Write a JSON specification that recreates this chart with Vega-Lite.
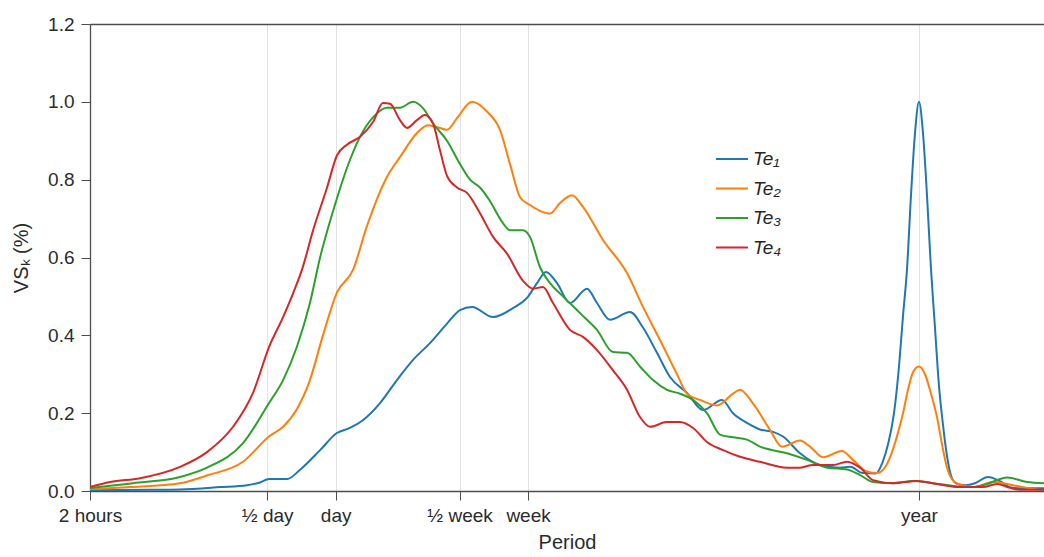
{
  "$schema": "https://vega.github.io/schema/vega-lite/v6.json",
  "width": 954,
  "height": 467,
  "autosize": {"type": "none"},
  "padding": {"left": 90, "top": 24, "right": 0, "bottom": 66},
  "background": "white",
  "config": {
    "view": {"stroke": null},
    "font": "Liberation Sans",
    "axis": {"labelFont": "Liberation Sans", "titleFont": "Liberation Sans", "labelColor": "#2b2b2b", "titleColor": "#2b2b2b", "domainColor": "#4d4d4d", "tickColor": "#4d4d4d", "labelFontSize": 19, "titleFontSize": 20, "titleFontWeight": "normal", "tickSize": 9, "domainWidth": 1.3}
  },
  "datasets": {
    "spectra": [
      {"s":"Te₁","p":2,"v":0.002},{"s":"Te₁","p":3.67,"v":0.003},{"s":"Te₁","p":4.97,"v":0.004},{"s":"Te₁","p":7.45,"v":0.01},{"s":"Te₁","p":9.79,"v":0.015},{"s":"Te₁","p":11.16,"v":0.022},{"s":"Te₁","p":12.23,"v":0.031},{"s":"Te₁","p":14.7,"v":0.031},{"s":"Te₁","p":16.7,"v":0.054},{"s":"Te₁","p":20.5,"v":0.105},{"s":"Te₁","p":24.3,"v":0.149},{"s":"Te₁","p":27.7,"v":0.162},{"s":"Te₁","p":31.6,"v":0.182},{"s":"Te₁","p":37.6,"v":0.226},{"s":"Te₁","p":44.6,"v":0.285},{"s":"Te₁","p":52.5,"v":0.337},{"s":"Te₁","p":62.3,"v":0.38},{"s":"Te₁","p":74.0,"v":0.43},{"s":"Te₁","p":84.4,"v":0.465},{"s":"Te₁","p":95.3,"v":0.473},{"s":"Te₁","p":117.9,"v":0.447},{"s":"Te₁","p":144.3,"v":0.47},{"s":"Te₁","p":166.2,"v":0.496},{"s":"Te₁","p":183.9,"v":0.534},{"s":"Te₁","p":201.4,"v":0.563},{"s":"Te₁","p":225.2,"v":0.534},{"s":"Te₁","p":256.8,"v":0.483},{"s":"Te₁","p":305.0,"v":0.52},{"s":"Te₁","p":337.4,"v":0.483},{"s":"Te₁","p":384.8,"v":0.44},{"s":"Te₁","p":471.2,"v":0.46},{"s":"Te₁","p":537.3,"v":0.42},{"s":"Te₁","p":619.1,"v":0.355},{"s":"Te₁","p":706.1,"v":0.293},{"s":"Te₁","p":838.8,"v":0.252},{"s":"Te₁","p":985.9,"v":0.208},{"s":"Te₁","p":1194.8,"v":0.234},{"s":"Te₁","p":1335.3,"v":0.2},{"s":"Te₁","p":1538.3,"v":0.175},{"s":"Te₁","p":1755,"v":0.158},{"s":"Te₁","p":2001,"v":0.152},{"s":"Te₁","p":2214,"v":0.14},{"s":"Te₁","p":2630,"v":0.097},{"s":"Te₁","p":3220,"v":0.067},{"s":"Te₁","p":3940,"v":0.06},{"s":"Te₁","p":4362,"v":0.062},{"s":"Te₁","p":4973,"v":0.046},{"s":"Te₁","p":5671,"v":0.045},{"s":"Te₁","p":6026,"v":0.07},{"s":"Te₁","p":6406,"v":0.12},{"s":"Te₁","p":6805,"v":0.2},{"s":"Te₁","p":7158,"v":0.32},{"s":"Te₁","p":7454,"v":0.45},{"s":"Te₁","p":7762,"v":0.57},{"s":"Te₁","p":8081,"v":0.76},{"s":"Te₁","p":8417,"v":0.92},{"s":"Te₁","p":8760,"v":1.0},{"s":"Te₁","p":9123,"v":0.92},{"s":"Te₁","p":9500,"v":0.76},{"s":"Te₁","p":9893,"v":0.57},{"s":"Te₁","p":10300,"v":0.42},{"s":"Te₁","p":10726,"v":0.27},{"s":"Te₁","p":11170,"v":0.17},{"s":"Te₁","p":11632,"v":0.09},{"s":"Te₁","p":12110,"v":0.04},{"s":"Te₁","p":12740,"v":0.02},{"s":"Te₁","p":13955,"v":0.015},{"s":"Te₁","p":15438,"v":0.02},{"s":"Te₁","p":17610,"v":0.036},{"s":"Te₁","p":19880,"v":0.025},{"s":"Te₁","p":22000,"v":0.01},{"s":"Te₁","p":24338,"v":0.007},{"s":"Te₁","p":31028,"v":0.007},
      {"s":"Te₂","p":2,"v":0.005},{"s":"Te₂","p":3.0,"v":0.01},{"s":"Te₂","p":4.97,"v":0.02},{"s":"Te₂","p":6.53,"v":0.04},{"s":"Te₂","p":9.4,"v":0.075},{"s":"Te₂","p":12.23,"v":0.14},{"s":"Te₂","p":14.1,"v":0.165},{"s":"Te₂","p":16.2,"v":0.21},{"s":"Te₂","p":18.5,"v":0.285},{"s":"Te₂","p":21.1,"v":0.4},{"s":"Te₂","p":24.3,"v":0.51},{"s":"Te₂","p":28.6,"v":0.568},{"s":"Te₂","p":32.9,"v":0.68},{"s":"Te₂","p":40.3,"v":0.807},{"s":"Te₂","p":46.0,"v":0.858},{"s":"Te₂","p":54.6,"v":0.92},{"s":"Te₂","p":61.0,"v":0.94},{"s":"Te₂","p":68.9,"v":0.933},{"s":"Te₂","p":74.0,"v":0.928},{"s":"Te₂","p":81.9,"v":0.958},{"s":"Te₂","p":95.3,"v":1.0},{"s":"Te₂","p":110.9,"v":0.975},{"s":"Te₂","p":126.5,"v":0.928},{"s":"Te₂","p":140.0,"v":0.84},{"s":"Te₂","p":154.9,"v":0.755},{"s":"Te₂","p":171.3,"v":0.735},{"s":"Te₂","p":189.6,"v":0.72},{"s":"Te₂","p":209.8,"v":0.713},{"s":"Te₂","p":232.1,"v":0.74},{"s":"Te₂","p":262.0,"v":0.76},{"s":"Te₂","p":292.9,"v":0.73},{"s":"Te₂","p":358.5,"v":0.645},{"s":"Te₂","p":457.1,"v":0.56},{"s":"Te₂","p":537.3,"v":0.473},{"s":"Te₂","p":638.2,"v":0.388},{"s":"Te₂","p":758.0,"v":0.3},{"s":"Te₂","p":838.8,"v":0.25},{"s":"Te₂","p":956.5,"v":0.234},{"s":"Te₂","p":1135.8,"v":0.22},{"s":"Te₂","p":1335.3,"v":0.25},{"s":"Te₂","p":1433.2,"v":0.26},{"s":"Te₂","p":1634.7,"v":0.225},{"s":"Te₂","p":1941,"v":0.157},{"s":"Te₂","p":2192,"v":0.114},{"s":"Te₂","p":2630,"v":0.13},{"s":"Te₂","p":2910,"v":0.114},{"s":"Te₂","p":3318,"v":0.087},{"s":"Te₂","p":4021,"v":0.103},{"s":"Te₂","p":4494,"v":0.08},{"s":"Te₂","p":5178,"v":0.05},{"s":"Te₂","p":5729,"v":0.046},{"s":"Te₂","p":6277,"v":0.065},{"s":"Te₂","p":6669,"v":0.1},{"s":"Te₂","p":7086,"v":0.15},{"s":"Te₂","p":7454,"v":0.2},{"s":"Te₂","p":7840,"v":0.26},{"s":"Te₂","p":8248,"v":0.305},{"s":"Te₂","p":8760,"v":0.32},{"s":"Te₂","p":9310,"v":0.3},{"s":"Te₂","p":9893,"v":0.25},{"s":"Te₂","p":10511,"v":0.19},{"s":"Te₂","p":11057,"v":0.12},{"s":"Te₂","p":11632,"v":0.06},{"s":"Te₂","p":12233,"v":0.03},{"s":"Te₂","p":13000,"v":0.018},{"s":"Te₂","p":15130,"v":0.01},{"s":"Te₂","p":18522,"v":0.023},{"s":"Te₂","p":22676,"v":0.015},{"s":"Te₂","p":26124,"v":0.008},{"s":"Te₂","p":29796,"v":0.003},{"s":"Te₂","p":31028,"v":0.002},
      {"s":"Te₃","p":2,"v":0.008},{"s":"Te₃","p":3.09,"v":0.02},{"s":"Te₃","p":4.97,"v":0.036},{"s":"Te₃","p":6.53,"v":0.06},{"s":"Te₃","p":9.4,"v":0.123},{"s":"Te₃","p":12.23,"v":0.226},{"s":"Te₃","p":14.1,"v":0.285},{"s":"Te₃","p":16.2,"v":0.37},{"s":"Te₃","p":18.5,"v":0.483},{"s":"Te₃","p":20.5,"v":0.6},{"s":"Te₃","p":23.4,"v":0.72},{"s":"Te₃","p":26.9,"v":0.83},{"s":"Te₃","p":30.7,"v":0.91},{"s":"Te₃","p":35.0,"v":0.96},{"s":"Te₃","p":40.3,"v":0.985},{"s":"Te₃","p":46.0,"v":0.985},{"s":"Te₃","p":52.5,"v":1.0},{"s":"Te₃","p":58.0,"v":0.984},{"s":"Te₃","p":64.2,"v":0.945},{"s":"Te₃","p":74.0,"v":0.9},{"s":"Te₃","p":84.4,"v":0.84},{"s":"Te₃","p":93.4,"v":0.8},{"s":"Te₃","p":103.3,"v":0.78},{"s":"Te₃","p":114.3,"v":0.745},{"s":"Te₃","p":126.5,"v":0.7},{"s":"Te₃","p":140.0,"v":0.67},{"s":"Te₃","p":159.6,"v":0.67},{"s":"Te₃","p":171.3,"v":0.653},{"s":"Te₃","p":189.6,"v":0.575},{"s":"Te₃","p":209.8,"v":0.534},{"s":"Te₃","p":239.2,"v":0.5},{"s":"Te₃","p":284.2,"v":0.457},{"s":"Te₃","p":337.4,"v":0.414},{"s":"Te₃","p":396.7,"v":0.357},{"s":"Te₃","p":457.1,"v":0.355},{"s":"Te₃","p":521.2,"v":0.32},{"s":"Te₃","p":594.6,"v":0.285},{"s":"Te₃","p":685.0,"v":0.26},{"s":"Te₃","p":781.3,"v":0.25},{"s":"Te₃","p":891.3,"v":0.234},{"s":"Te₃","p":1026.5,"v":0.2},{"s":"Te₃","p":1170.9,"v":0.145},{"s":"Te₃","p":1335.3,"v":0.138},{"s":"Te₃","p":1538.3,"v":0.132},{"s":"Te₃","p":1755,"v":0.114},{"s":"Te₃","p":2306,"v":0.097},{"s":"Te₃","p":2822,"v":0.08},{"s":"Te₃","p":3457,"v":0.06},{"s":"Te₃","p":4230,"v":0.055},{"s":"Te₃","p":4826,"v":0.041},{"s":"Te₃","p":5502,"v":0.023},{"s":"Te₃","p":6736,"v":0.02},{"s":"Te₃","p":8248,"v":0.026},{"s":"Te₃","p":10096,"v":0.02},{"s":"Te₃","p":12358,"v":0.013},{"s":"Te₃","p":15130,"v":0.01},{"s":"Te₃","p":17434,"v":0.018},{"s":"Te₃","p":21338,"v":0.035},{"s":"Te₃","p":26124,"v":0.023},{"s":"Te₃","p":31028,"v":0.02},
      {"s":"Te₄","p":2,"v":0.01},{"s":"Te₄","p":2.45,"v":0.023},{"s":"Te₄","p":3.32,"v":0.033},{"s":"Te₄","p":4.97,"v":0.062},{"s":"Te₄","p":6.53,"v":0.1},{"s":"Te₄","p":8.5,"v":0.165},{"s":"Te₄","p":10.4,"v":0.252},{"s":"Te₄","p":12.23,"v":0.37},{"s":"Te₄","p":14.1,"v":0.447},{"s":"Te₄","p":15.6,"v":0.508},{"s":"Te₄","p":17.1,"v":0.57},{"s":"Te₄","p":19.1,"v":0.67},{"s":"Te₄","p":22.0,"v":0.78},{"s":"Te₄","p":24.3,"v":0.862},{"s":"Te₄","p":26.9,"v":0.89},{"s":"Te₄","p":30.7,"v":0.91},{"s":"Te₄","p":35.0,"v":0.948},{"s":"Te₄","p":38.7,"v":0.997},{"s":"Te₄","p":41.6,"v":0.995},{"s":"Te₄","p":46.0,"v":0.953},{"s":"Te₄","p":49.4,"v":0.933},{"s":"Te₄","p":54.6,"v":0.953},{"s":"Te₄","p":59.2,"v":0.966},{"s":"Te₄","p":64.2,"v":0.945},{"s":"Te₄","p":68.9,"v":0.876},{"s":"Te₄","p":74.0,"v":0.81},{"s":"Te₄","p":81.9,"v":0.78},{"s":"Te₄","p":90.6,"v":0.766},{"s":"Te₄","p":103.3,"v":0.714},{"s":"Te₄","p":117.9,"v":0.653},{"s":"Te₄","p":135.8,"v":0.61},{"s":"Te₄","p":159.6,"v":0.54},{"s":"Te₄","p":176.6,"v":0.52},{"s":"Te₄","p":195.4,"v":0.524},{"s":"Te₄","p":216.2,"v":0.483},{"s":"Te₄","p":256.8,"v":0.414},{"s":"Te₄","p":292.9,"v":0.396},{"s":"Te₄","p":337.4,"v":0.362},{"s":"Te₄","p":396.7,"v":0.31},{"s":"Te₄","p":457.1,"v":0.26},{"s":"Te₄","p":521.2,"v":0.19},{"s":"Te₄","p":576.8,"v":0.165},{"s":"Te₄","p":685.0,"v":0.177},{"s":"Te₄","p":781.3,"v":0.177},{"s":"Te₄","p":891.3,"v":0.162},{"s":"Te₄","p":1026.5,"v":0.126},{"s":"Te₄","p":1207,"v":0.105},{"s":"Te₄","p":1433.2,"v":0.088},{"s":"Te₄","p":1755,"v":0.075},{"s":"Te₄","p":2306,"v":0.06},{"s":"Te₄","p":2630,"v":0.06},{"s":"Te₄","p":2999,"v":0.067},{"s":"Te₄","p":3672,"v":0.067},{"s":"Te₄","p":4230,"v":0.075},{"s":"Te₄","p":4826,"v":0.06},{"s":"Te₄","p":5502,"v":0.028},{"s":"Te₄","p":6736,"v":0.02},{"s":"Te₄","p":8588,"v":0.026},{"s":"Te₄","p":10511,"v":0.018},{"s":"Te₄","p":13266,"v":0.01},{"s":"Te₄","p":16740,"v":0.01},{"s":"Te₄","p":19286,"v":0.018},{"s":"Te₄","p":22000,"v":0.008},{"s":"Te₄","p":24338,"v":0.003},{"s":"Te₄","p":31028,"v":0.003}
    ]
  },
  "data": {"name": "spectra"},
  "layer": [
    {
      "mark": {"type": "line", "interpolate": "monotone", "strokeWidth": 2, "clip": true},
      "encoding": {
        "x": {"field": "p", "type": "quantitative", "scale": {"type": "log", "domain": [2, 31028], "nice": false, "zero": false},
          "axis": {"title": "Period", "values": [2, 12, 24, 84, 168, 8760], "labelExpr": "datum.value == 2 ? '2 hours' : datum.value == 12 ? '½ day' : datum.value == 24 ? 'day' : datum.value == 84 ? '½ week' : datum.value == 168 ? 'week' : 'year'", "labelOverlap": false, "labelFlush": false, "grid": true, "gridColor": "#e3e3e3", "gridWidth": 1, "labelPadding": 6, "titlePadding": 7}},
        "y": {"field": "v", "type": "quantitative", "scale": {"domain": [0, 1.2], "nice": false},
          "axis": {"title": "VSₖ (%)", "values": [0, 0.2, 0.4, 0.6, 0.8, 1.0, 1.2], "format": ".1f", "grid": false, "labelPadding": 7, "titlePadding": 16}},
        "color": {"field": "s", "type": "nominal", "scale": {"domain": ["Te₁", "Te₂", "Te₃", "Te₄"], "range": ["#1f77b4", "#ff7f0e", "#2ca02c", "#d62728"]},
          "legend": {"orient": "none", "legendX": 625, "legendY": 118, "title": null, "symbolType": "stroke", "symbolSize": 1024, "symbolStrokeWidth": 2, "labelFont": "Liberation Sans", "labelFontSize": 19, "labelFontStyle": "italic", "labelColor": "#262626", "rowPadding": 2.5, "labelOffset": 4}}
      }
    },
    {
      "mark": {"type": "line", "strokeOpacity": 0},
      "encoding": {
        "x": {"field": "p", "type": "quantitative", "scale": {"type": "log", "domain": [2, 31028], "nice": false, "zero": false},
          "axis": {"orient": "top", "title": null, "labels": false, "ticks": false, "grid": false}},
        "y": {"field": "v", "type": "quantitative"},
        "detail": {"field": "s"}
      }
    }
  ],
  "resolve": {"axis": {"x": "independent"}}
}
